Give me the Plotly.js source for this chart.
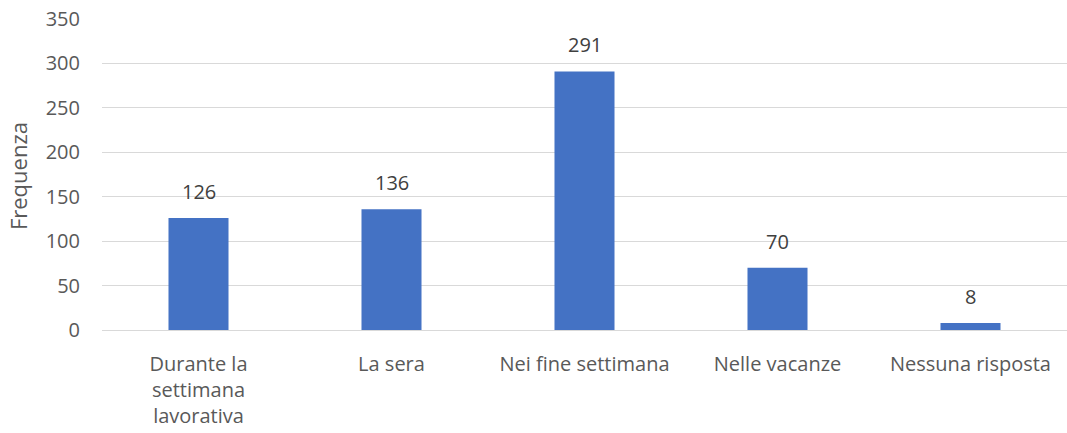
<!DOCTYPE html>
<html>
<head>
<meta charset="utf-8">
<script src="https://cdn.plot.ly/plotly-3.0.1.min.js"></script>
<style>html,body{margin:0;padding:0;background:#fff;}#chart{width:1067px;height:433px;}</style>
</head>
<body>
<div id="chart"></div>
<script>
const categories = ["Durante la<br>settimana<br>lavorativa", "La sera", "Nei fine settimana", "Nelle vacanze", "Nessuna risposta"];
const values = [126, 136, 291, 70, 8];
const yTicks = [0, 50, 100, 150, 200, 250, 300, 350];
const yTitle = 'Frequenza';

const FONT = 'Open Sans, sans-serif';

const trace = {
  type: 'bar',
  x: categories,
  y: values,
  marker: {color: '#4472C4'},
  hoverinfo: 'none'
};

const annotations = categories.map((c, i) => ({
  x: c, y: values[i], xref: 'x', yref: 'y',
  text: String(values[i]),
  showarrow: false,
  yanchor: 'bottom',
  yshift: 11,
  font: {family: FONT, size: 20, color: '#404040'}
}));
annotations.push({
  xref: 'paper', yref: 'paper', x: -0.087, y: 0.495,
  xanchor: 'center', yanchor: 'middle',
  text: yTitle, textangle: -90, showarrow: false,
  font: {family: FONT, size: 22, color: '#595959'}
});

const layout = {
  width: 1067, height: 433,
  margin: {l: 102, r: 0, t: 19, b: 103},
  paper_bgcolor: '#fff', plot_bgcolor: '#fff',
  bargap: 0.689,
  showlegend: false,
  font: {family: FONT, size: 20, color: '#595959'},
  annotations: annotations,
  xaxis: {
    type: 'category',
    showgrid: false,
    showline: true, linecolor: '#d9d9d9', linewidth: 1,
    ticks: '', tickfont: {size: 20, color: '#595959'},
    ticklabelstandoff: 16,
    automargin: false
  },
  yaxis: {
    range: [0, 350],
    tickvals: yTicks,
    ticktext: yTicks.map(String),
    showgrid: true, gridcolor: '#d9d9d9', gridwidth: 1,
    zeroline: false, showline: false, ticks: '',
    ticklabelstandoff: 21,
    tickfont: {size: 20, color: '#595959'},
    automargin: false
  }
};

Plotly.newPlot('chart', [trace], layout, {displayModeBar: false, staticPlot: true});
</script>
</body>
</html>
